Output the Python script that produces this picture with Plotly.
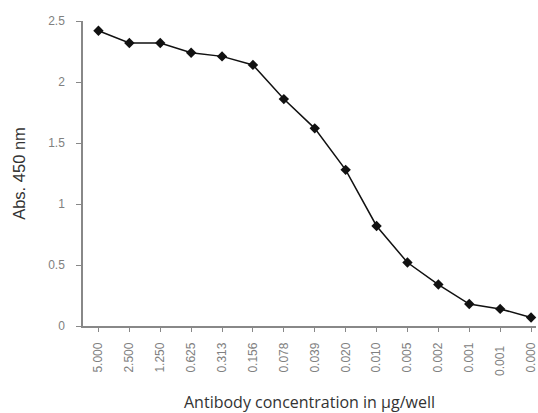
import plotly.graph_objects as go

concentrations = ["5.000", "2.500", "1.250", "0.625", "0.313", "0.156", "0.078", "0.039",
                  "0.020", "0.010", "0.005", "0.002", "0.001", "0.001 ", "0.000"]
absorbance = [2.42, 2.32, 2.32, 2.24, 2.21, 2.14, 1.86, 1.62, 1.28, 0.82, 0.52, 0.34, 0.18, 0.14, 0.07]
y_ticks = [0, 0.5, 1, 1.5, 2, 2.5]
y_tick_text = ["0", "0.5", "1", "1.5", "2", "2.5"]

idx = list(range(len(concentrations)))

fig = go.Figure()
fig.add_trace(go.Scatter(
    x=idx, y=absorbance, mode="lines+markers",
    line=dict(color="#111111", width=1.5),
    marker=dict(symbol="diamond", size=8, color="#111111"),
    showlegend=False, cliponaxis=False,
))

fig.update_layout(
    width=538, height=413,
    margin=dict(l=83, r=0, t=21, b=87),
    paper_bgcolor="white", plot_bgcolor="white",
    font=dict(family="Liberation Sans, Arial, sans-serif", color="#555555"),
)
fig.update_xaxes(
    range=[-0.5, 14.16],
    tickmode="array", tickvals=idx, ticktext=concentrations,
    tickangle=-90, tickfont=dict(size=12, color="#808080"),
    showline=True, linecolor="#888888", linewidth=1.5,
    ticks="outside", ticklen=4, tickcolor="#888888", tickson="boundaries",
    ticklabelstandoff=6, ticklabeloverflow="allow",
    showgrid=False, zeroline=False,
    title=dict(text="Antibody concentration in \u03bcg/well",
               font=dict(family="Open Sans, sans-serif", size=16, color="#333333"), standoff=25),
)
fig.update_yaxes(
    range=[0, 2.5],
    tickmode="array", tickvals=y_ticks, ticktext=y_tick_text,
    tickfont=dict(size=12, color="#808080"),
    showline=True, linecolor="#888888", linewidth=1.5,
    ticks="outside", ticklen=5, tickcolor="#888888",
    ticklabelstandoff=9,
    showgrid=False, zeroline=False,
    title=dict(text="Abs. 450 nm", font=dict(size=16.5, color="#333333"), standoff=18),
)

fig.write_html("out.html", config={"displayModeBar": False},
               post_script="document.body.style.margin='0';document.body.style.overflow='hidden';")
